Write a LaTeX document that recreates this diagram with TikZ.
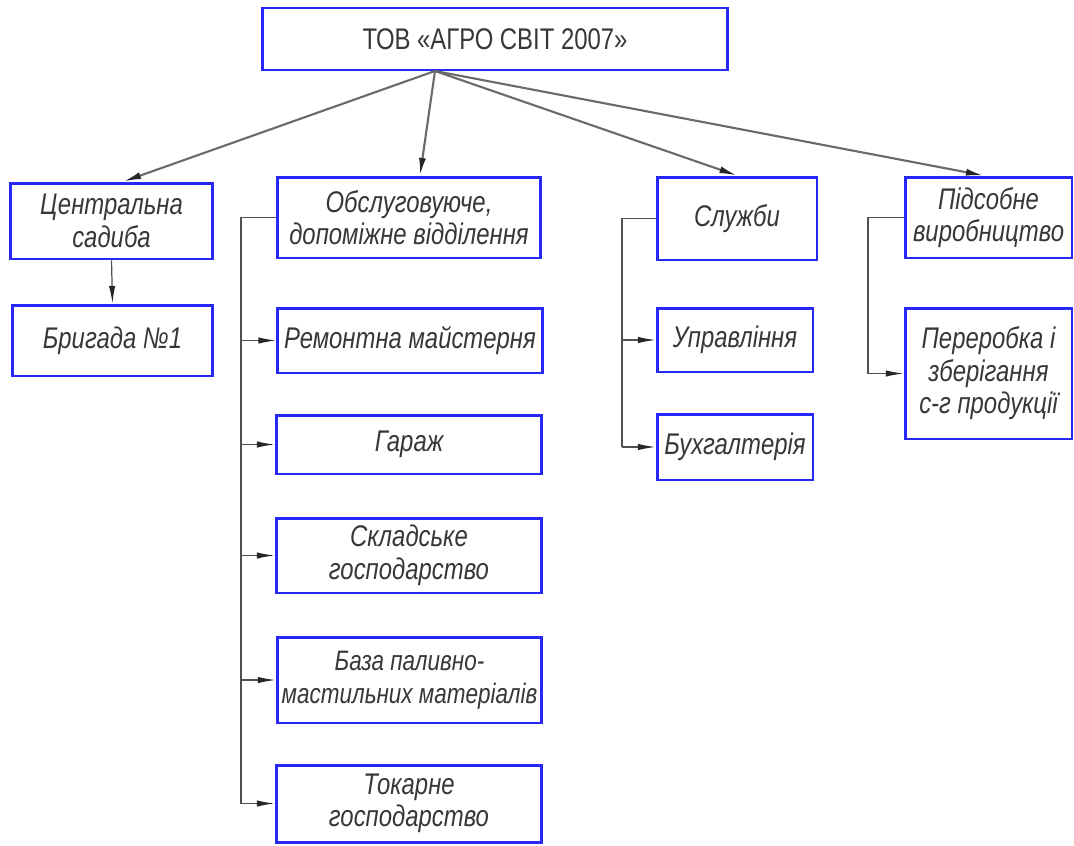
\documentclass[tikz,border=0pt]{standalone}
\usepackage{fontspec}
\setmainfont{Liberation Sans}[FakeStretch=0.8]
\usetikzlibrary{arrows.meta, positioning}
\definecolor{boxblue}{RGB}{40,40,245}
\definecolor{txtgray}{RGB}{55,55,55}
\definecolor{linegray}{RGB}{80,80,80}

\begin{document}
\begin{tikzpicture}[x=0.02cm, y=-0.02cm,
    unit/.style={draw=boxblue, line width=1.7pt, text=txtgray, align=center,
        inner sep=1pt, font=\fontsize{17}{18.5}\selectfont\itshape},
    bus/.style={draw=linegray, line width=0.7pt},
    link/.style={bus, -{Latex[length=10pt,width=3.6pt,color=black!85]}},
    mainlink/.style={draw=linegray!85, line width=1.2pt, -{Latex[length=10pt,width=4pt,color=black!85]}}]
\useasboundingbox (0,0) rectangle (1074,845);

% top level
\node[unit, font=\fontsize{17}{18.5}\selectfont, minimum width=9.32cm, minimum height=1.24cm] (ceo) at (495,39) {ТОВ «АГРО СВІТ 2007»};
\coordinate (root) at (435,71);

% first row
\node[unit, minimum width=4.06cm, minimum height=1.52cm] (sadyba) at (111.5,221) {Центральна\\садиба};
\node[unit, minimum width=5.28cm, minimum height=1.62cm] (obsl) at (409,217.5) {Обслуговуюче,\\допоміжне відділення};
\node[unit, minimum width=3.2cm, minimum height=1.66cm] (sluzhby) at (737,218.5) {Служби};
\node[unit, minimum width=3.34cm, minimum height=1.62cm] (pidsob) at (988.5,217.5) {Підсобне\\виробництво};

\draw[mainlink] (root) -- ([xshift=0.24cm]sadyba.north);
\draw[mainlink] (root) -- ([xshift=0.22cm]obsl.north);
\draw[mainlink] (root) -- (sluzhby.north);
\draw[mainlink] (root) -- ([xshift=-0.1cm]pidsob.north);

% central estate
\node[unit, minimum width=4.02cm, minimum height=1.42cm] (brygada) at (112.5,340.5) {Бригада №1};
\draw[link] (sadyba.south) -- (brygada.north);

% auxiliary department
\node[unit, minimum width=5.3cm, minimum height=1.3cm] (remont) at (410,340.5) {Ремонтна майстерня};
\node[unit, minimum width=5.32cm, minimum height=1.18cm] (garazh) at (409,444.5) {Гараж};
\node[unit, minimum width=5.32cm, minimum height=1.5cm] (sklad) at (409,555.5) {Складське\\господарство};
\node[unit, font=\fontsize{16}{18.5}\selectfont\itshape, minimum width=5.3cm, minimum height=1.72cm] (baza) at (409.5,680) {База паливно-\\мастильних матеріалів};
\node[unit, minimum width=5.32cm, minimum height=1.54cm] (tokar) at (409,803.5) {Токарне\\господарство};

\coordinate (busA) at (241,0);
\draw[bus] (obsl.west) -- (obsl.west -| busA) -- (tokar.west -| busA);
\foreach \n in {remont,garazh,sklad,baza,tokar}
    \draw[link] (\n.west -| busA) -- (\n.west);

% services
\node[unit, minimum width=3.12cm, minimum height=1.28cm] (upr) at (735,340) {Управління};
\node[unit, minimum width=3.12cm, minimum height=1.32cm] (buh) at (735,447) {Бухгалтерія};

\coordinate (busB) at (622,0);
\draw[bus] (sluzhby.west) -- (sluzhby.west -| busB) -- (buh.west -| busB);
\foreach \n in {upr,buh}
    \draw[link] (\n.west -| busB) -- (\n.west);

% subsidiary production
\node[unit, minimum width=3.34cm, minimum height=2.62cm] (pererob) at (988.5,373.5) {Переробка і\\зберігання\\с-г продукції};

\coordinate (busC) at (868,0);
\draw[bus] (pidsob.west) -- (pidsob.west -| busC) -- (pererob.west -| busC);
\draw[link] (pererob.west -| busC) -- (pererob.west);
\end{tikzpicture}
\end{document}
